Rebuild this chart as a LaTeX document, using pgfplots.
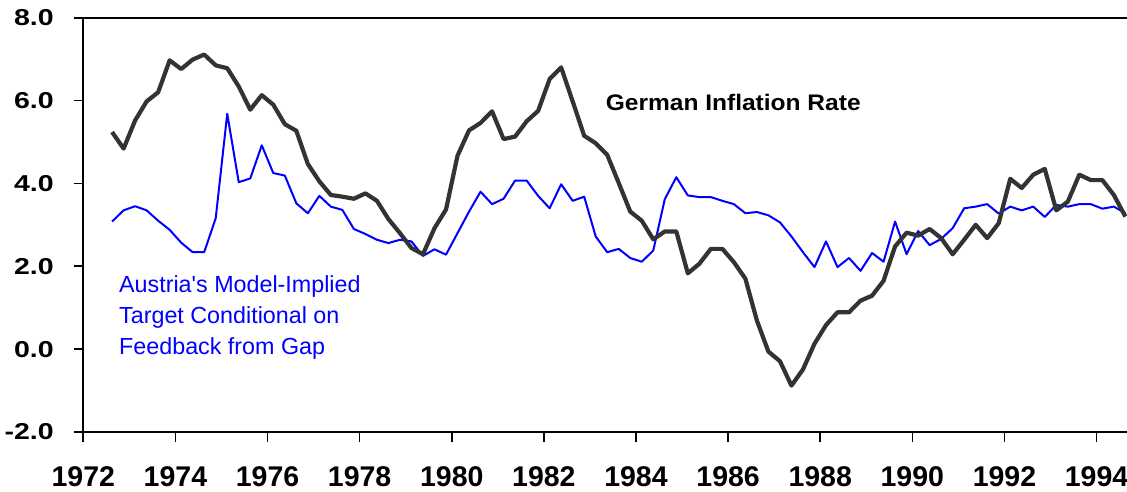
\documentclass[border=0pt]{standalone}
\usepackage{pgfplots}
\pgfplotsset{compat=1.18}
\usepackage{pgfplotstable}
\usepackage{fontspec}
\setmainfont{Liberation Sans}
\newfontfamily\plainfont{Liberation Sans}[Ligatures=TeXOff]
\definecolor{infl}{HTML}{333333}
\definecolor{aut}{RGB}{0,0,255}

\pgfplotstableread{
t g a
1972.625 5.24 3.08
1972.875 4.84 3.35
1973.125 5.52 3.45
1973.375 5.98 3.35
1973.625 6.20 3.10
1973.875 6.97 2.88
1974.125 6.76 2.57
1974.375 6.99 2.34
1974.625 7.11 2.34
1974.875 6.85 3.16
1975.125 6.78 5.68
1975.375 6.34 4.03
1975.625 5.78 4.12
1975.875 6.13 4.92
1976.125 5.90 4.25
1976.375 5.43 4.19
1976.625 5.27 3.52
1976.875 4.47 3.28
1977.125 4.05 3.70
1977.375 3.72 3.44
1977.625 3.68 3.36
1977.875 3.63 2.90
1978.125 3.76 2.78
1978.375 3.58 2.64
1978.625 3.14 2.56
1978.875 2.80 2.64
1979.125 2.44 2.60
1979.375 2.29 2.25
1979.625 2.92 2.41
1979.875 3.37 2.28
1980.125 4.67 2.80
1980.375 5.28 3.32
1980.625 5.46 3.80
1980.875 5.74 3.50
1981.125 5.07 3.63
1981.375 5.13 4.07
1981.625 5.50 4.07
1981.875 5.75 3.70
1982.125 6.52 3.40
1982.375 6.80 3.98
1982.625 5.98 3.58
1982.875 5.15 3.68
1983.125 4.97 2.72
1983.375 4.69 2.34
1983.625 4.01 2.42
1983.875 3.32 2.20
1984.125 3.10 2.11
1984.375 2.65 2.38
1984.625 2.84 3.62
1984.875 2.84 4.15
1985.125 1.83 3.71
1985.375 2.06 3.67
1985.625 2.42 3.67
1985.875 2.42 3.58
1986.125 2.10 3.50
1986.375 1.70 3.28
1986.625 0.69 3.31
1986.875 -0.06 3.23
1987.125 -0.29 3.06
1987.375 -0.88 2.72
1987.625 -0.49 2.34
1987.875 0.13 1.98
1988.125 0.58 2.60
1988.375 0.89 1.98
1988.625 0.89 2.20
1988.875 1.17 1.89
1989.125 1.29 2.32
1989.375 1.65 2.11
1989.625 2.48 3.08
1989.875 2.81 2.29
1990.125 2.74 2.85
1990.375 2.90 2.51
1990.625 2.68 2.66
1990.875 2.29 2.92
1991.125 2.64 3.40
1991.375 3.00 3.44
1991.625 2.68 3.50
1991.875 3.04 3.27
1992.125 4.11 3.44
1992.375 3.89 3.35
1992.625 4.21 3.44
1992.875 4.35 3.19
1993.125 3.35 3.48
1993.375 3.56 3.44
1993.625 4.21 3.50
1993.875 4.08 3.50
1994.125 4.08 3.39
1994.375 3.72 3.44
1994.625 3.20 3.28
}\data

\begin{document}
\begin{tikzpicture}
\useasboundingbox (0,0) rectangle (1127bp,492bp);
\begin{axis}[
  at={(83.3bp,60bp)}, anchor=south west,
  scale only axis, width=1043.7bp, height=414.3bp,
  xmin=1972, xmax=1994.66, ymin=-2, ymax=8,
  axis x line*=box, axis y line*=left,
  axis line style={line width=2.2bp, black},
  xtick={1972,1974,...,1994},
  xticklabels={1972,1974,1976,1978,1980,1982,1984,1986,1988,1990,1992,1994},
  ytick={-2,0,2,4,6,8},
  yticklabels={-2.0,0.0,2.0,4.0,6.0,8.0},
  xtick pos=bottom, ytick pos=left,
  tick align=outside, major tick length=9.5bp,
  every tick/.style={black, line width=1.6bp},
  yticklabel style={font=\bfseries\fontsize{23bp}{23bp}\selectfont, xscale=1.24, inner sep=0pt, anchor=east, xshift=-16bp},
  xticklabel style={font=\bfseries\fontsize{28.5bp}{28.5bp}\selectfont, inner sep=0pt, anchor=north, yshift=-25bp},
]
\addplot[aut, line width=2bp, line join=round] table[x=t, y=a] {\data};
\addplot[infl, line width=4.2bp, line join=round] table[x=t, y=g] {\data};
\node[anchor=base west, font=\bfseries\fontsize{22.5bp}{22.5bp}\selectfont, xscale=1.09, inner sep=0pt] at (axis cs:1983.34,5.76) {German Inflation Rate};
\node[anchor=base west, font=\plainfont\fontsize{23.3bp}{23.3bp}\selectfont, text=aut, inner sep=0pt] at (axis cs:1972.775,1.365) {Austria's Model-Implied};
\node[anchor=base west, font=\plainfont\fontsize{23.3bp}{23.3bp}\selectfont, text=aut, inner sep=0pt] at (axis cs:1972.775,0.609) {Target Conditional on};
\node[anchor=base west, font=\plainfont\fontsize{23.3bp}{23.3bp}\selectfont, text=aut, inner sep=0pt] at (axis cs:1972.775,-0.14) {Feedback from Gap};
\end{axis}
\end{tikzpicture}
\end{document}
